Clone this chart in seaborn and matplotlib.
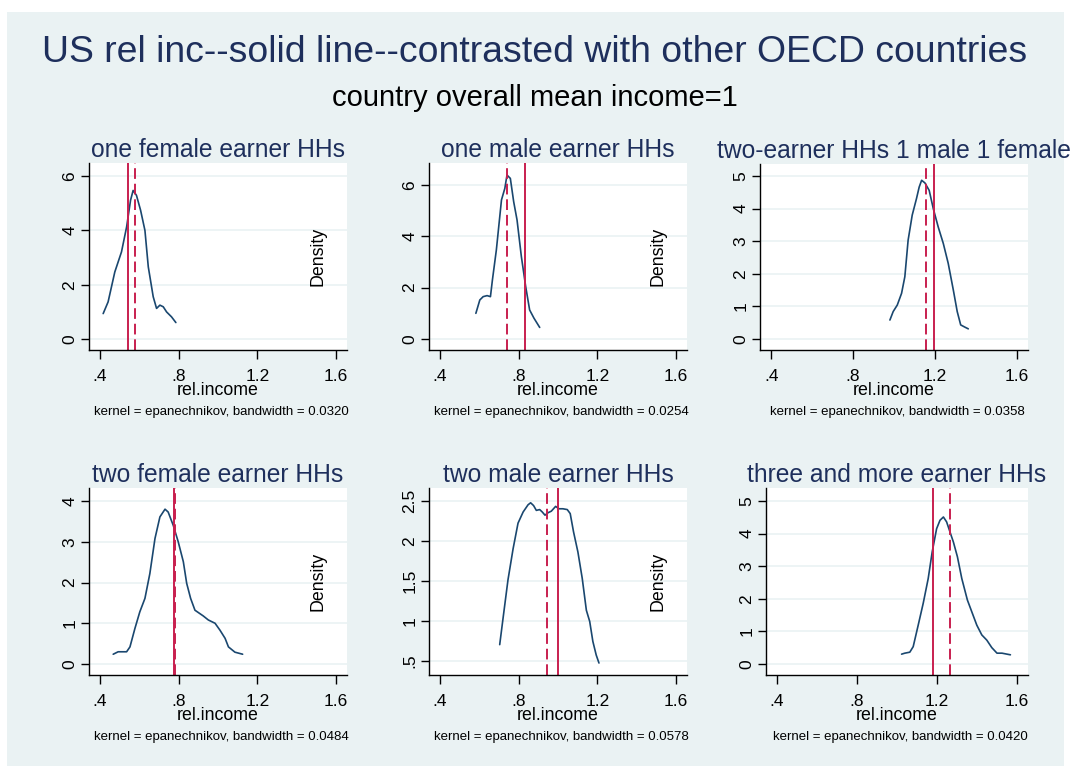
import numpy as np
import pandas as pd
import seaborn as sns
import matplotlib.pyplot as plt
from matplotlib.patches import Rectangle

# panel titles and notes
titles = ["one female earner HHs", "one male earner HHs", "two-earner HHs 1 male 1 female",
          "two female earner HHs", "two male earner HHs", "three and more earner HHs"]
bandwidths = ["0.0320", "0.0254", "0.0358", "0.0484", "0.0578", "0.0420"]

# US value (solid line) and OECD mean (dashed line)
us_inc = [0.541, 0.834, 1.195, 0.775, 0.998, 1.182]
oecd_inc = [0.578, 0.741, 1.154, 0.780, 0.942, 1.263]

# density curves
f1_x = [0.417, 0.442, 0.476, 0.510, 0.536, 0.556, 0.569, 0.586, 0.607, 0.629, 0.646, 0.671,
        0.688, 0.705, 0.722, 0.739, 0.764, 0.786]
f1_y = [0.94, 1.37, 2.47, 3.21, 4.13, 5.11, 5.47, 5.29, 4.74, 4.00, 2.66, 1.56,
        1.13, 1.25, 1.19, 1.00, 0.82, 0.61]

m1_x = [0.583, 0.603, 0.620, 0.640, 0.657, 0.667, 0.687, 0.713, 0.730, 0.741, 0.758, 0.775,
        0.792, 0.814, 0.836, 0.856, 0.878, 0.907]
m1_y = [1.00, 1.52, 1.65, 1.69, 1.65, 2.30, 3.47, 5.42, 5.87, 6.39, 6.26, 5.35,
        4.64, 3.21, 2.04, 1.13, 0.81, 0.45]

mf_x = [0.980, 0.996, 1.016, 1.037, 1.053, 1.069, 1.089, 1.110, 1.123, 1.135, 1.151, 1.172,
        1.192, 1.216, 1.241, 1.265, 1.290, 1.309, 1.326, 1.347, 1.363]
mf_y = [0.58, 0.84, 1.04, 1.40, 1.91, 3.03, 3.80, 4.31, 4.66, 4.87, 4.79, 4.56,
        4.00, 3.44, 2.93, 2.32, 1.50, 0.84, 0.43, 0.36, 0.31]

f2_x = [0.468, 0.493, 0.536, 0.553, 0.578, 0.603, 0.629, 0.654, 0.680, 0.705, 0.731, 0.747,
        0.773, 0.798, 0.824, 0.841, 0.861, 0.883, 0.925, 0.951, 0.985, 1.010, 1.036, 1.053,
        1.086, 1.125]
f2_y = [0.24, 0.30, 0.30, 0.42, 0.87, 1.28, 1.61, 2.22, 3.08, 3.61, 3.80, 3.73,
        3.40, 3.00, 2.51, 1.98, 1.61, 1.32, 1.18, 1.08, 1.00, 0.83, 0.63, 0.42,
        0.29, 0.24]

m2_x = [0.704, 0.721, 0.746, 0.772, 0.797, 0.823, 0.848, 0.861, 0.876, 0.890, 0.907, 0.920,
        0.934, 0.949, 0.966, 0.988, 1.005, 1.025, 1.047, 1.062, 1.079, 1.101, 1.123, 1.144,
        1.161, 1.177, 1.194, 1.208]
m2_y = [0.70, 1.03, 1.51, 1.90, 2.22, 2.36, 2.45, 2.475, 2.44, 2.38, 2.39, 2.36,
        2.32, 2.35, 2.37, 2.43, 2.40, 2.40, 2.39, 2.34, 2.11, 1.86, 1.53, 1.13,
        0.99, 0.74, 0.57, 0.47]

e3_x = [1.023, 1.039, 1.064, 1.081, 1.106, 1.131, 1.156, 1.176, 1.198, 1.215, 1.232, 1.248,
        1.265, 1.282, 1.302, 1.324, 1.352, 1.377, 1.399, 1.424, 1.449, 1.474, 1.500, 1.525,
        1.550, 1.567]
e3_y = [0.30, 0.33, 0.36, 0.53, 1.19, 1.86, 2.62, 3.44, 4.15, 4.41, 4.51, 4.36,
        4.05, 3.74, 3.29, 2.62, 1.96, 1.55, 1.19, 0.89, 0.73, 0.50, 0.33, 0.33,
        0.30, 0.28]

curves = [(f1_x, f1_y), (m1_x, m1_y), (mf_x, mf_y), (f2_x, f2_y), (m2_x, m2_y), (e3_x, e3_y)]

# y ticks per panel
yticks = [[0, 2, 4, 6], [0, 2, 4, 6], [0, 1, 2, 3, 4, 5],
          [0, 1, 2, 3, 4], [0.5, 1, 1.5, 2, 2.5], [0, 1, 2, 3, 4, 5]]
ytick_labels = [["0", "2", "4", "6"], ["0", "2", "4", "6"], ["0", "1", "2", "3", "4", "5"],
                ["0", "1", "2", "3", "4"], [".5", "1", "1.5", "2", "2.5"], ["0", "1", "2", "3", "4", "5"]]
ylims = [(-0.40, 6.48), (-0.43, 6.86), (-0.34, 5.37), (-0.27, 4.32), (0.32, 2.66), (-0.34, 5.40)]
xticks = [0.4, 0.8, 1.2, 1.6]
xtick_labels = [".4", ".8", "1.2", "1.6"]

sns.set_theme(style="white")
plt.rcParams['font.family'] = ['Liberation Sans', 'DejaVu Sans']

navy = "#1a476f"
red = "#c81f4f"
bg = "#eaf2f3"
title_col = "#1e2f5c"

W, H = 1074, 775
fig = plt.figure(figsize=(W / 100, H / 100), dpi=100)
fig.patch.set_facecolor("white")
fig.patches.append(Rectangle((7 / W, 1 - 766 / H), 1057 / W, 754 / H, transform=fig.transFigure,
                             facecolor=bg, edgecolor="none", zorder=-10))

fig.text(535 / W, 1 - 52 / H, "US rel inc--solid line--contrasted with other OECD countries",
         ha="center", va="center", fontsize=26.9, color=title_col)
fig.text(535 / W, 1 - 98 / H, "country overall mean income=1",
         ha="center", va="center", fontsize=21, color="black")

# panel boxes in pixels: left, top, right, bottom
boxes = [(89, 163, 347, 350), (429, 163, 687, 350), (760, 164, 1028, 350),
         (89, 488, 347, 675), (429, 488, 687, 675), (766, 488, 1028, 675)]

for i, (l, t, r, b) in enumerate(boxes):
    ax = fig.add_axes([l / W, 1 - b / H, (r - l) / W, (b - t) / H])
    ax.set_facecolor("white")
    df = pd.DataFrame({"rel.income": curves[i][0], "Density": curves[i][1]})
    sns.lineplot(data=df, x="rel.income", y="Density", ax=ax, color=navy, lw=1.2, sort=False)
    ax.axvline(us_inc[i], color=red, lw=1.4)
    ax.axvline(oecd_inc[i], color=red, lw=1.4, dashes=(5.5, 2.5))
    ax.set_xlim(0.345, 1.655)
    ax.set_ylim(*ylims[i])
    ax.set_xticks(xticks)
    ax.set_xticklabels(xtick_labels)
    ax.set_yticks(yticks[i])
    ax.set_yticklabels(ytick_labels[i], rotation=90, va="center")
    for y in yticks[i]:
        ax.axhline(y, color=bg, lw=1.2, zorder=0)
    for s in ["top", "right"]:
        ax.spines[s].set_visible(False)
    for s in ["left", "bottom"]:
        ax.spines[s].set_color("black")
        ax.spines[s].set_linewidth(1.0)
    ax.tick_params(axis="x", direction="out", length=6.5, width=1, color="black",
                   labelsize=12.5, labelcolor="black", bottom=True, pad=7)
    ax.tick_params(axis="y", direction="out", length=5.5, width=1, color="black",
                   labelsize=12.5, labelcolor="black", left=True, pad=3)
    ax.set_xlabel("rel.income", fontsize=12.8, color="black", labelpad=-1.5)
    ax.set_ylabel("")
    if i in (0, 1, 3, 4):
        ax.text(0.888, 0.5, "Density", transform=ax.transAxes, rotation=90,
                ha="center", va="center", fontsize=12.8, color="black")
    ax.set_title(titles[i], fontsize=17.7, color=title_col, pad=4)
    fig.text((l + r) / 2 / W + 0.003, 1 - (b + 62) / H,
             "kernel = epanechnikov, bandwidth = " + bandwidths[i],
             ha="center", va="center", fontsize=9.5, color="black")

fig.savefig("out.png", dpi=100)
